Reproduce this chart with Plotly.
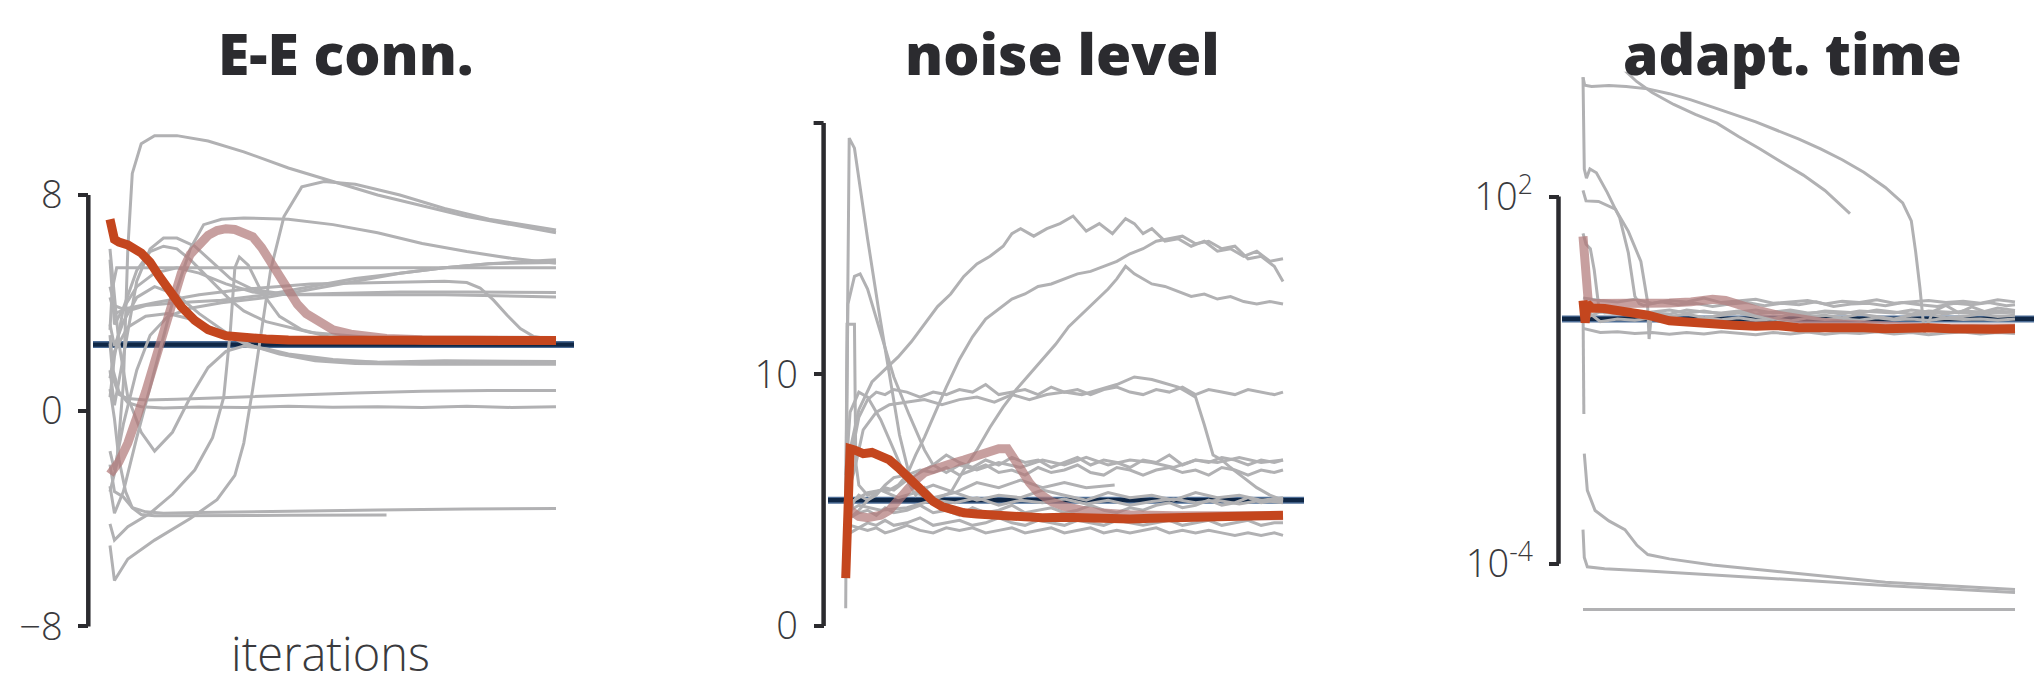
import math
import plotly.graph_objects as go

# ---------------- data ----------------
# x = progress through iterations (0..100 %)
# Panel 1: E-E conn.
EE_TRUE = 2.45
EE_ORANGE_X = [0, 0.3, 1, 2, 4, 7, 9, 11, 13, 16, 19, 22, 26, 30, 35, 40, 50, 60, 70, 80, 90, 100]
EE_ORANGE_Y = [7.1, 6.9, 6.35, 6.25, 6.15, 5.85, 5.5, 5.0, 4.5, 3.85, 3.35, 3.0, 2.78, 2.7, 2.66, 2.62, 2.6, 2.58, 2.57, 2.58, 2.6, 2.6]
EE_PINK_X = [0, 2, 4, 6, 8, 10, 12, 14, 16, 18, 20, 22, 24, 26, 28, 30, 32, 34, 36, 38, 40, 42, 44, 47, 50, 54, 58, 62, 70, 80, 100]
EE_PINK_Y = [-2.35, -1.9, -1.2, -0.3, 0.7, 1.8, 3.0, 4.1, 5.1, 5.8, 6.2, 6.5, 6.68, 6.75, 6.72, 6.6, 6.45, 6.05, 5.55, 4.95, 4.4, 3.95, 3.6, 3.25, 3.0, 2.84, 2.74, 2.68, 2.63, 2.6, 2.6]
EE_G1_X = [0, 1.5, 3, 4, 5, 7, 10, 15, 22, 30, 40, 50, 60, 70, 80, 90, 100]
EE_G1_Y = [-3.0, -2.0, 1.0, 6.0, 8.8, 9.9, 10.2, 10.2, 10.0, 9.6, 9.0, 8.5, 8.0, 7.6, 7.2, 6.9, 6.6]
EE_G2_X = [0, 1, 4, 10, 18, 24, 28, 30, 32, 34, 36, 39, 43, 48, 55, 65, 75, 85, 100]
EE_G2_Y = [-5.0, -6.3, -5.5, -4.8, -4.0, -3.3, -2.4, -1.2, 0.8, 3.0, 5.2, 7.2, 8.3, 8.5, 8.4, 8.0, 7.5, 7.1, 6.7]
EE_G3_X = [0, 0.5, 1.5, 100]
EE_G3_Y = [3.0, 4.5, 5.3, 5.3]
EE_G4_X = [0, 1, 3, 6, 9, 12, 15, 19, 23, 27, 32, 40, 55, 75, 100]
EE_G4_Y = [1.5, 0.2, 2.0, 4.8, 6.0, 6.4, 6.4, 6.1, 5.5, 4.9, 4.5, 4.3, 4.3, 4.3, 4.22]
EE_G5_X = [0, 1, 3, 6, 10, 15, 20, 26, 32, 40, 50, 65, 80, 100]
EE_G5_Y = [5.6, 3.2, 3.8, 4.6, 5.1, 5.3, 5.1, 4.7, 4.4, 4.3, 4.35, 4.4, 4.4, 4.38]
EE_G6_X = [0, 1, 4, 10, 20, 30, 45, 60, 75, 80, 83, 86, 89, 92, 95, 100]
EE_G6_Y = [4.2, 3.6, 3.8, 4.0, 4.3, 4.5, 4.7, 4.75, 4.8, 4.75, 4.55, 4.1, 3.55, 3.05, 2.75, 2.62]
EE_G7_X = [0, 1, 3, 6, 9, 13, 18, 25, 35, 45, 55, 65, 75, 85, 100]
EE_G7_Y = [-1.5, -2.2, -0.5, 1.5, 2.8, 3.5, 3.8, 4.0, 4.2, 4.5, 4.8, 5.1, 5.3, 5.45, 5.6]
EE_G8_X = [0, 1, 4, 8, 15, 25, 35, 45, 55, 65, 75, 85, 100]
EE_G8_Y = [4.6, 3.9, 3.7, 3.9, 4.0, 4.1, 4.3, 4.6, 4.9, 5.1, 5.3, 5.45, 5.5]
EE_G9_X = [0, 1, 3, 6, 10, 15, 20, 26, 32, 40, 50, 60, 75, 100]
EE_G9_Y = [3.2, 2.4, 3.3, 4.2, 4.6, 4.3, 3.6, 2.9, 2.4, 2.05, 1.85, 1.8, 1.85, 1.82]
EE_G10_X = [0, 1, 4, 8, 13, 18, 24, 30, 38, 46, 55, 70, 100]
EE_G10_Y = [1.2, 2.2, 3.1, 3.5, 3.6, 3.4, 3.0, 2.5, 2.1, 1.85, 1.75, 1.72, 1.72]
EE_G11_X = [0, 0.7, 2, 4, 8, 15, 25, 40, 55, 70, 85, 100]
EE_G11_Y = [2.5, 1.2, 0.6, 0.45, 0.4, 0.42, 0.48, 0.58, 0.66, 0.72, 0.75, 0.75]
EE_G12_X = [0, 0.7, 2, 4, 7, 12, 20, 30, 40, 50, 60, 70, 80, 90, 100]
EE_G12_Y = [2.8, 1.5, 0.7, 0.3, 0.15, 0.1, 0.14, 0.12, 0.16, 0.13, 0.15, 0.12, 0.16, 0.12, 0.15]
EE_G13_X = [0, 1, 3, 5, 8, 12, 20, 40, 60, 80, 100]
EE_G13_Y = [-2.0, -3.0, -3.2, -3.6, -3.75, -3.8, -3.78, -3.72, -3.68, -3.65, -3.63]
EE_G14_X = [0, 1, 2, 3.5, 5, 7, 10, 20, 40, 62]
EE_G14_Y = [0.8, -0.3, -1.8, -3.0, -3.6, -3.85, -3.9, -3.9, -3.88, -3.87]
EE_G15_X = [0, 1, 4, 9, 14, 19, 23, 25.5, 27, 28, 29, 31, 34, 38, 43, 50, 60, 80, 100]
EE_G15_Y = [-4.2, -4.8, -4.3, -3.8, -3.1, -2.2, -1.0, 0.5, 3.0, 5.3, 5.7, 5.4, 4.4, 3.5, 3.0, 2.7, 2.55, 2.5, 2.5]
EE_G16_X = [0, 0.8, 2, 4, 7, 10, 14, 18, 22, 26, 30, 35, 40, 50, 60, 100]
EE_G16_Y = [6.0, 4.5, 2.5, 0.5, -0.8, -1.5, -0.8, 0.5, 1.6, 2.2, 2.4, 2.3, 2.1, 1.9, 1.8, 1.78]
EE_G17_X = [0, 1, 3, 6, 9, 12, 15, 18, 21, 24, 27, 30, 35, 45, 60, 80, 100]
EE_G17_Y = [0.5, 2.0, 3.8, 5.2, 5.9, 6.1, 6.0, 5.6, 5.1, 4.6, 4.1, 3.7, 3.3, 2.9, 2.7, 2.6, 2.55]
EE_G18_X = [0, 1, 3, 6, 10, 14, 18, 21, 25, 30, 40, 50, 60, 70, 80, 90, 100]
EE_G18_Y = [-2.8, -3.8, -3.0, -1.0, 1.5, 4.0, 6.0, 6.9, 7.1, 7.15, 7.1, 6.9, 6.6, 6.2, 5.9, 5.65, 5.47]

# Panel 2: noise level
NL_TRUE = 5.0
NL_ORANGE_X = [0, 0.4, 1, 2, 4, 6, 8, 10, 12, 14, 16, 18, 20, 22, 24, 27, 30, 35, 40, 45, 50, 55, 60, 65, 70, 75, 80, 85, 90, 95, 100]
NL_ORANGE_Y = [1.9, 5.0, 7.05, 7.0, 6.85, 6.9, 6.75, 6.6, 6.3, 5.95, 5.6, 5.25, 4.95, 4.75, 4.62, 4.5, 4.45, 4.38, 4.35, 4.3, 4.32, 4.28, 4.3, 4.25, 4.28, 4.3, 4.33, 4.3, 4.36, 4.35, 4.4]
NL_PINK_X = [0.5, 1, 3, 5, 8, 10, 12, 14, 16, 18, 21, 24, 27, 30, 33, 35, 37, 38.5, 40, 42, 44, 47, 50, 54, 58, 65, 75, 100]
NL_PINK_Y = [5.0, 4.6, 4.35, 4.3, 4.4, 4.6, 5.0, 5.45, 5.8, 6.1, 6.3, 6.45, 6.6, 6.8, 6.95, 7.05, 7.05, 6.7, 6.25, 5.7, 5.3, 4.95, 4.75, 4.6, 4.5, 4.42, 4.38, 4.38]
NL_XB = [0, 1, 3, 5, 7, 9, 11, 14, 17, 20, 23, 26, 29, 32, 35, 38, 41, 44, 47, 50, 53, 56, 59, 62, 65, 68, 71, 74, 77, 80, 83, 86, 89, 92, 95, 98, 100]
NL_G1_X = [0, 0.3, 0.8, 2, 5, 7.5, 10, 12.3, 14.7, 17, 20, 25, 30, 35, 40, 45, 50, 55, 61.5]
NL_G1_Y = [0.7, 10.0, 19.4, 19.0, 15.4, 12.6, 10.0, 7.6, 5.9, 5.4, 5.6, 5.3, 5.7, 5.5, 5.8, 5.5, 5.7, 5.5, 5.6]
NL_G2_X = [0, 0.5, 2, 3.3, 5, 8, 11, 14.5, 18, 20, 23, 26, 30, 35, 40, 45, 50, 55, 60, 65, 70, 75, 80, 85, 90, 95, 100]
NL_G2_Y = [5.0, 12.8, 13.9, 14.0, 13.4, 11.6, 9.9, 8.4, 7.0, 6.4, 6.1, 6.4, 6.2, 6.5, 6.3, 6.6, 6.4, 6.7, 6.4, 6.6, 6.5, 6.3, 6.6, 6.5, 6.7, 6.5, 6.6]
NL_G3_X = [0, 0.3, 2.0, 2.3, 3, 5, 8, 12, 16, 20, 25, 30, 35, 40, 45, 50, 55, 60, 65, 70, 75, 80, 85, 90, 95, 100]
NL_G3_Y = [4.0, 12.0, 12.0, 6.5, 5.6, 5.2, 5.4, 5.1, 5.3, 5.0, 4.9, 5.1, 4.8, 5.0, 4.9, 5.05, 4.85, 5.0, 4.8, 4.95, 5.05, 4.9, 5.0, 4.85, 5.0, 4.9]
NL_G4_X = [0, 1, 3, 6, 9, 12, 15, 18, 21, 24, 27, 30, 33, 36, 38, 40, 43, 46, 49, 52, 55, 58, 61, 64, 66, 68, 70, 73, 76, 79, 82, 85, 88, 91, 94, 97, 100]
NL_G4_Y = [5.5, 7.0, 8.6, 9.7, 10.2, 10.7, 11.3, 12.0, 12.7, 13.2, 13.9, 14.4, 14.7, 15.1, 15.6, 15.8, 15.5, 15.8, 16.0, 16.3, 15.7, 16.0, 15.6, 16.2, 16.0, 15.6, 15.8, 15.3, 15.4, 15.1, 15.3, 14.9, 15.0, 14.7, 14.9, 14.5, 14.6]
NL_G5_X = [0, 2, 5, 8, 10, 12, 14, 16, 18, 20, 23, 26, 29, 32, 35, 38, 41, 44, 47, 50, 53, 56, 59, 62, 65, 68, 71, 74, 77, 80, 83, 86, 89, 92, 95, 98, 100]
NL_G5_Y = [4.2, 5.0, 5.3, 5.4, 5.4, 5.6, 6.0, 6.8, 7.5, 8.3, 9.5, 10.6, 11.5, 12.2, 12.6, 13.0, 13.2, 13.5, 13.6, 13.8, 14.0, 14.1, 14.3, 14.5, 14.8, 15.0, 15.3, 15.4, 15.5, 15.2, 15.3, 15.0, 15.1, 14.6, 14.7, 14.3, 13.7]
NL_G6_X = [0, 3, 8, 14, 20, 24, 27, 30, 33, 36, 39, 42, 45, 48, 51, 54, 57, 60, 62, 64, 66, 68, 70, 73, 76, 79, 82, 85, 88, 91, 94, 97, 100]
NL_G6_Y = [4.5, 4.8, 4.6, 4.7, 5.0, 5.3, 6.2, 7.0, 7.9, 8.7, 9.4, 10.0, 10.6, 11.2, 11.9, 12.4, 12.9, 13.4, 13.8, 14.3, 14.0, 13.8, 13.6, 13.5, 13.3, 13.1, 13.2, 13.0, 13.1, 12.9, 12.8, 12.9, 12.8]
NL_G7_Y = [4.5, 6.5, 8.3, 9.0, 9.3, 9.2, 9.4, 9.3, 9.1, 9.3, 9.2, 9.4, 9.3, 9.6, 9.2, 9.3, 9.4, 9.2, 9.5, 9.3, 9.4, 9.2, 9.4, 9.5, 9.3, 9.2, 9.4, 9.3, 9.5, 9.2, 9.4, 9.3, 9.2, 9.4, 9.3, 9.2, 9.3]
NL_G8_X = [0, 2, 4, 7, 10, 14, 18, 22, 26, 30, 34, 38, 42, 46, 50, 54, 58, 62, 66, 70, 72, 74, 76, 78, 80, 82, 84, 86, 88, 91, 94, 97, 100]
NL_G8_Y = [5.0, 6.2, 7.8, 8.5, 8.8, 8.9, 9.0, 8.8, 9.0, 9.1, 8.9, 9.2, 9.0, 9.2, 9.3, 9.2, 9.4, 9.6, 9.9, 9.8, 9.7, 9.6, 9.5, 9.3, 9.1, 8.0, 6.8, 6.6, 6.3, 5.9, 5.5, 5.2, 5.0]
NL_G9_Y = [4.2, 4.8, 5.2, 5.0, 5.3, 5.5, 5.4, 5.8, 6.1, 6.4, 6.8, 6.5, 6.3, 6.6, 6.4, 6.7, 6.5, 6.6, 6.3, 6.5, 6.7, 6.4, 6.6, 6.5, 6.3, 6.6, 6.5, 6.8, 6.4, 6.6, 6.5, 6.7, 6.6, 6.4, 6.6, 6.5, 6.6]
NL_G10_Y = [4.0, 4.3, 4.6, 5.0, 5.2, 5.6, 5.9, 6.0, 6.2, 6.1, 6.3, 6.0, 6.2, 6.4, 6.1, 6.2, 6.0, 6.3, 6.1, 6.2, 6.4, 6.1, 6.0, 6.3, 6.2, 6.0, 6.2, 6.3, 6.1, 6.2, 6.0, 6.3, 6.2, 6.0, 6.2, 6.1, 6.2]
NL_G11_Y = [3.6, 4.0, 3.9, 4.1, 4.0, 4.2, 4.0, 4.1, 4.3, 4.0, 4.1, 4.2, 4.0, 4.1, 4.3, 4.1, 4.0, 4.2, 4.1, 4.0, 4.2, 4.1, 4.0, 4.2, 4.1, 4.0, 4.1, 4.2, 4.0, 4.1, 4.2, 4.0, 4.1, 4.2, 4.0, 4.1, 4.1]
NL_G12_Y = [3.3, 3.7, 3.9, 3.8, 3.9, 3.7, 3.8, 4.0, 3.8, 3.7, 3.9, 3.8, 3.9, 3.7, 3.8, 3.9, 3.7, 3.8, 3.9, 3.7, 3.8, 3.9, 3.7, 3.8, 3.7, 3.8, 3.9, 3.7, 3.8, 3.7, 3.8, 3.7, 3.6, 3.7, 3.6, 3.7, 3.6]
NL_G13_Y = [3.8, 4.3, 4.5, 4.6, 4.4, 4.7, 4.5, 4.6, 4.8, 4.5, 4.6, 4.4, 4.7, 4.5, 4.6, 4.8, 4.5, 4.6, 4.7, 4.5, 4.6, 4.8, 4.6, 4.5, 4.7, 4.6, 4.8, 4.9, 4.7, 4.8, 5.0, 4.8, 4.9, 5.1, 4.9, 5.0, 4.95]
NL_G14_X = [0, 1, 3, 5, 8, 11, 14, 16, 18, 20, 25, 30, 35, 40, 45, 50, 55, 60, 65, 70, 75, 80, 85, 90, 95, 100]
NL_G14_Y = [6.0, 8.5, 9.3, 9.1, 8.2, 7.0, 5.8, 5.2, 5.5, 5.1, 5.3, 5.0, 5.2, 5.1, 5.4, 5.2, 5.0, 5.3, 5.1, 5.2, 5.0, 5.3, 5.1, 5.2, 5.0, 5.1]

# Panel 3: adapt. time (log axis)
AT_TRUE = 1.0
AT_ORANGE_X = [0, 0.5, 1, 2, 5, 10, 15, 20, 25, 30, 35, 40, 45, 50, 55, 60, 65, 70, 75, 80, 85, 90, 95, 100]
AT_ORANGE_Y = [2.0, 0.87, 1.78, 1.51, 1.48, 1.32, 1.15, 0.93, 0.86, 0.83, 0.79, 0.76, 0.78, 0.72, 0.74, 0.71, 0.72, 0.69, 0.71, 0.72, 0.69, 0.71, 0.68, 0.69]
AT_PINK_X = [0, 0.6, 1.2, 2, 5, 10, 15, 20, 25, 30, 33, 36, 40, 45, 50, 55, 60, 70, 80, 90, 100]
AT_PINK_Y = [22.4, 7.9, 2.0, 1.78, 1.78, 1.74, 1.86, 1.82, 1.9, 2.09, 2.0, 1.78, 1.41, 1.15, 1.0, 0.89, 0.83, 0.76, 0.72, 0.71, 0.71]
AT_XB = [0, 4, 8, 12, 16, 20, 24, 28, 32, 36, 40, 44, 48, 52, 56, 60, 64, 68, 72, 76, 80, 84, 88, 92, 96, 100]
AT_G1_X = [0, 0.4, 2, 6, 10, 15, 20, 25, 30, 35, 40, 45, 50, 55, 60, 65, 70, 74, 76, 77, 78, 79, 81, 84, 87, 90, 93, 96, 100]
AT_G1_Y = [8900, 6600, 6300, 6500, 6300, 5750, 4800, 3800, 2900, 2200, 1660, 1200, 870, 600, 400, 250, 141, 79, 40, 12.6, 3.2, 0.6, 1.32, 1.66, 1.26, 1.58, 1.32, 1.51, 1.38]
AT_G2_X = [0, 5, 10, 12.4, 16, 21, 26, 31, 36, 41, 46, 51, 56, 61.8]
AT_G2_Y = [31600, 22400, 11000, 7600, 5000, 3200, 2200, 1580, 955, 600, 363, 224, 126, 52.5]
AT_G3_X = [0, 0.3, 0.8, 1.6, 3.1, 5.6, 8.5, 10.5, 12, 13, 14, 18, 22, 26, 30, 34, 38, 42, 46, 50, 54, 58, 62, 66, 70, 74, 78, 82, 86, 90, 94, 98, 100]
AT_G3_Y = [8900, 282, 200, 282, 245, 117, 44.7, 12.0, 2.34, 1.78, 1.66, 1.9, 1.7, 1.8, 1.6, 1.75, 1.85, 1.65, 1.8, 1.7, 1.9, 1.6, 1.75, 1.8, 1.65, 1.85, 1.7, 1.6, 1.8, 1.7, 1.85, 1.65, 1.7]
AT_G4_X = [0, 0.7, 3.6, 7.5, 10.5, 13.4, 14.9, 15.3, 15.8, 16.5, 20, 24, 28, 32, 36, 40, 44, 48, 52, 56, 60, 64, 68, 72, 76, 80, 84, 88, 92, 96, 100]
AT_G4_Y = [126, 85, 83, 62, 27, 8.7, 2.0, 0.47, 1.12, 1.0, 1.1, 1.2, 1.05, 1.15, 1.25, 1.1, 1.0, 1.2, 1.1, 1.15, 1.05, 1.2, 1.1, 1.0, 1.15, 1.2, 1.05, 1.1, 1.2, 1.1, 1.15]
AT_G5_X = [0, 0.7, 1.7, 2.6, 3.6, 5, 8, 12, 16, 20, 24, 28, 32, 36, 40, 44, 48, 52, 56, 60, 64, 68, 72, 76, 80, 84, 88, 92, 96, 100]
AT_G5_Y = [25, 16.6, 14.1, 6.3, 1.7, 1.26, 1.35, 1.2, 1.3, 1.4, 1.25, 1.35, 1.2, 1.3, 1.4, 1.25, 1.3, 1.2, 1.35, 1.3, 1.25, 1.4, 1.3, 1.2, 1.35, 1.3, 1.25, 1.3, 1.35, 1.28]
AT_G6_X = [0, 0.2, None, 0.3, 1.0, 2.8, 6, 9.7, 12.5, 15, 20, 30, 50, 70, 100]
AT_G6_Y = [1.78, 0.028, None, 0.0063, 0.00158, 0.00074, 0.0005, 0.00036, 0.0002, 0.000141, 0.00012, 9.5e-5, 6.8e-5, 5.0e-5, 3.8e-5]
AT_G7_X = [0, 0.3, 1, 5, 15, 30, 50, 70, 100]
AT_G7_Y = [0.00036, 0.000126, 8.9e-5, 8.3e-5, 7.6e-5, 6.6e-5, 5.4e-5, 4.4e-5, 3.4e-5]
AT_G8_X = [0, 100]
AT_G8_Y = [1.78e-5, 1.78e-5]
AT_G9_Y = [2.2, 2.0, 1.9, 2.1, 1.8, 2.0, 1.9, 2.2, 1.85, 1.95, 2.1, 1.8, 1.9, 2.0, 1.75, 1.95, 1.85, 2.05, 1.8, 1.9, 2.0, 1.85, 1.95, 1.8, 2.05, 1.9]
AT_G10_Y = [1.0, 1.3, 1.2, 1.35, 1.25, 1.2, 1.4, 1.3, 1.25, 1.35, 1.2, 1.3, 1.4, 1.25, 1.3, 1.2, 1.35, 1.3, 1.25, 1.4, 1.3, 1.2, 1.35, 1.3, 1.25, 1.3]
AT_G11_Y = [0.7, 0.6, 0.62, 0.58, 0.6, 0.56, 0.6, 0.57, 0.62, 0.58, 0.55, 0.6, 0.57, 0.61, 0.56, 0.6, 0.58, 0.62, 0.57, 0.6, 0.55, 0.59, 0.61, 0.57, 0.6, 0.58]
AT_G12_Y = [1.5, 0.9, 1.0, 0.95, 1.05, 1.0, 0.92, 1.02, 0.97, 1.05, 0.95, 1.0, 0.93, 1.04, 0.98, 1.0, 0.95, 1.05, 0.97, 1.0, 0.94, 1.03, 0.98, 1.0, 0.95, 1.0]

TITLES = ["E-E conn.", "noise level", "adapt. time"]
XLABEL = "iterations"
EE_TICKS = [-8, 0, 8]
EE_TICKTEXT = ["\u22128", "0", "8"]
NL_TICKS = [0, 10]
NL_TICKTEXT = ["0", "10"]
NL_SPINE_TOP = 20          # unlabeled tick at the top of the noise-level spine
AT_TICKS = [1e-4, 1e2]
AT_TICKTEXT = ["10<sup>-4</sup>", "10<sup>2</sup>"]

# ---------------- style / geometry ----------------
W, H = 2041, 695
GRAY = "#b1b1b3"
ORANGE = "#c4461e"
PINK = "rgba(178,122,122,0.72)"
NAVY = "#0f2746"
NAVY_EDGE = "#4d6d96"
INK = "#2b2b2f"
TXT = "#3a3a3d"
TOP_PX, BOT_PX = 73, 650
YDOM = [1 - BOT_PX / H, 1 - TOP_PX / H]
TICKLEN = 10

PANELS = [
    dict(px=(93, 574), spine=88.3, xr=[-3.81, 104.04], yr=[-8.493, 12.566], log=False,
         ticks=EE_TICKS, ticktext=EE_TICKTEXT, span=(-8, 8), title_x=345),
    dict(px=(828, 1304), spine=823.6, xr=[-4.05, 104.8], yr=[-0.548, 22.035], log=False,
         ticks=NL_TICKS, ticktext=NL_TICKTEXT, span=(0, NL_SPINE_TOP), title_x=1062),
    dict(px=(1562, 2034), spine=1558.5, xr=[-4.86, 104.4], yr=[-5.242, 4.038], log=True,
         ticks=AT_TICKS, ticktext=AT_TICKTEXT, span=(1e-4, 1e2), title_x=1792),
]

fig = go.Figure()


def ax(i):
    return ("x", "y") if i == 0 else (f"x{i+1}", f"y{i+1}")


def line(i, xs, ys, color, width):
    xa, ya = ax(i)
    fig.add_trace(go.Scatter(x=xs, y=ys, mode="lines", xaxis=xa, yaxis=ya,
                             line=dict(color=color, width=width, shape="linear"),
                             connectgaps=False, hoverinfo="skip", showlegend=False))


def truth(i, val):
    xr = PANELS[i]["xr"]
    line(i, [xr[0], xr[1]], [val, val], NAVY_EDGE, 7)
    line(i, [xr[0], xr[1]], [val, val], NAVY, 4.2)


GW, TW = 3.0, 9

# panel 1
truth(0, EE_TRUE)
for xs, ys in [(EE_G1_X, EE_G1_Y), (EE_G2_X, EE_G2_Y), (EE_G3_X, EE_G3_Y), (EE_G4_X, EE_G4_Y),
               (EE_G5_X, EE_G5_Y), (EE_G6_X, EE_G6_Y), (EE_G7_X, EE_G7_Y), (EE_G8_X, EE_G8_Y),
               (EE_G9_X, EE_G9_Y), (EE_G10_X, EE_G10_Y), (EE_G11_X, EE_G11_Y), (EE_G12_X, EE_G12_Y),
               (EE_G13_X, EE_G13_Y), (EE_G14_X, EE_G14_Y), (EE_G15_X, EE_G15_Y), (EE_G16_X, EE_G16_Y),
               (EE_G17_X, EE_G17_Y), (EE_G18_X, EE_G18_Y)]:
    line(0, xs, ys, GRAY, GW)
line(0, EE_PINK_X, EE_PINK_Y, PINK, TW)
line(0, EE_ORANGE_X, EE_ORANGE_Y, ORANGE, TW)

# panel 2
truth(1, NL_TRUE)
for xs, ys in [(NL_G1_X, NL_G1_Y), (NL_G2_X, NL_G2_Y), (NL_G3_X, NL_G3_Y), (NL_G4_X, NL_G4_Y),
               (NL_G5_X, NL_G5_Y), (NL_G6_X, NL_G6_Y), (NL_XB, NL_G7_Y), (NL_G8_X, NL_G8_Y),
               (NL_XB, NL_G9_Y), (NL_XB, NL_G10_Y), (NL_XB, NL_G11_Y), (NL_XB, NL_G12_Y),
               (NL_XB, NL_G13_Y), (NL_G14_X, NL_G14_Y)]:
    line(1, xs, ys, GRAY, GW)
line(1, NL_PINK_X, NL_PINK_Y, PINK, TW)
line(1, NL_ORANGE_X, NL_ORANGE_Y, ORANGE, TW)

# panel 3
truth(2, AT_TRUE)
for xs, ys in [(AT_G1_X, AT_G1_Y), (AT_G2_X, AT_G2_Y), (AT_G3_X, AT_G3_Y), (AT_G4_X, AT_G4_Y),
               (AT_G5_X, AT_G5_Y), (AT_G6_X, AT_G6_Y), (AT_G7_X, AT_G7_Y), (AT_G8_X, AT_G8_Y),
               (AT_XB, AT_G9_Y), (AT_XB, AT_G10_Y), (AT_XB, AT_G11_Y), (AT_XB, AT_G12_Y)]:
    line(2, xs, ys, GRAY, GW)
line(2, AT_PINK_X, AT_PINK_Y, PINK, TW)
line(2, AT_ORANGE_X, AT_ORANGE_Y, ORANGE, TW)

# ---------------- axes ----------------
layout = dict(width=W, height=H, margin=dict(l=0, r=0, t=0, b=0),
              paper_bgcolor="white", plot_bgcolor="white", showlegend=False,
              hovermode=False)
shapes, annotations = [], []
for i, p in enumerate(PANELS):
    xk = "xaxis" if i == 0 else f"xaxis{i+1}"
    yk = "yaxis" if i == 0 else f"yaxis{i+1}"
    ya_name = "y" if i == 0 else f"y{i+1}"
    layout[xk] = dict(domain=[p["px"][0] / W, p["px"][1] / W], range=p["xr"], anchor=ya_name,
                      visible=False, showgrid=False, zeroline=False)
    layout[yk] = dict(domain=YDOM, range=p["yr"], type="log" if p["log"] else "linear",
                      anchor="free", position=p["spine"] / W,
                      tickmode="array", tickvals=p["ticks"], ticktext=p["ticktext"],
                      ticks="outside", ticklen=TICKLEN, tickwidth=4, tickcolor=INK,
                      ticklabelstandoff=8,
                      tickfont=dict(family="Open Sans", size=38, color=TXT, weight=300),
                      showline=False, showgrid=False, zeroline=False)

    def to_paper(v, p=p):
        t = math.log10(v) if p["log"] else v
        return YDOM[0] + (t - p["yr"][0]) / (p["yr"][1] - p["yr"][0]) * (YDOM[1] - YDOM[0])

    xs_paper = p["spine"] / W
    shapes.append(dict(type="line", xref="paper", yref="paper",
                       x0=xs_paper, x1=xs_paper,
                       y0=to_paper(p["span"][0]), y1=to_paper(p["span"][1]),
                       line=dict(color=INK, width=4.5), layer="above"))
    if p["span"][1] not in p["ticks"]:
        yy = to_paper(p["span"][1])
        shapes.append(dict(type="line", xref="paper", yref="paper",
                           x0=(p["spine"] - TICKLEN) / W, x1=xs_paper, y0=yy, y1=yy,
                           line=dict(color=INK, width=4), layer="above"))
    annotations.append(dict(text=TITLES[i], xref="paper", yref="paper",
                            x=p["title_x"] / W, y=1 - 54 / H, xanchor="center", yanchor="middle",
                            showarrow=False,
                            font=dict(family="Open Sans", size=57, color=INK, weight=800)))

annotations.append(dict(text=XLABEL, xref="paper", yref="paper",
                        x=330 / W, y=1 - 664 / H, xanchor="center", yanchor="middle",
                        showarrow=False,
                        font=dict(family="Open Sans", size=47, color=TXT, weight=300)))

layout["shapes"] = shapes
layout["annotations"] = annotations
fig.update_layout(**layout)
fig.write_html("out.html")
